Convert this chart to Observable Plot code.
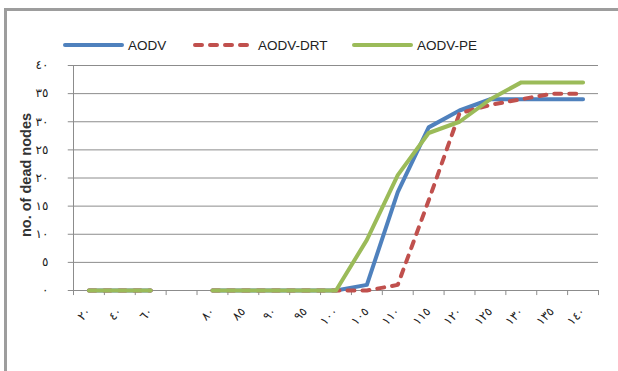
<!DOCTYPE html>
<html>
<head>
<meta charset="utf-8">
<script src="https://cdn.jsdelivr.net/npm/d3@7"></script>
<script src="https://cdn.jsdelivr.net/npm/@observablehq/plot@0.6"></script>
<style>
  html, body { margin: 0; padding: 0; background: #fff; }
  #wrap { position: relative; width: 618px; height: 371px; overflow: hidden; background: #fff; }
  #frame { position: absolute; left: 4px; top: 8px; width: 700px; height: 500px;
           border-left: 3px solid #9d9d9d; border-top: 3px solid #9d9d9d; box-sizing: border-box; }
  #chart { position: absolute; left: 0; top: 0; }
  .item { position: absolute; top: 36px; height: 18px; display: flex; align-items: center;
          font-family: "Liberation Sans", Arial, sans-serif; font-size: 13.5px; color: #222; }
  .item svg { margin-right: 4px; }
</style>
</head>
<body>
<div id="wrap">
  <div id="frame"></div>
  <div id="chart"></div>
</div>
<script>
// Network size categories (Arabic-Indic digits); the empty slot is a gap on the axis
const categories = ["٢٠", "٤٠", "٦٠", "", "٨٠", "٨٥", "٩٠", "٩٥", "١٠٠", "١٠٥", "١١٠", "١١٥", "١٢٠", "١٢٥", "١٣٠", "١٣٥", "١٤٠"];

// Number of dead nodes per protocol
const aodv    = [0, 0, 0, null, 0, 0, 0, 0, 0, 1, 17.5, 29, 32, 34, 34, 34, 34];
const aodvDrt = [0, 0, 0, null, 0, 0, 0, 0, 0, 0, 1, 16, 31.5, 33, 34, 35, 35];
const aodvPe  = [0, 0, 0, null, 0, 0, 0, 0, 0, 9, 20.5, 28, 30, 34, 37, 37, 37];

const seriesNames = ["AODV", "AODV-DRT", "AODV-PE"];
const yTicks = [0, 5, 10, 15, 20, 25, 30, 35, 40];

const toArabic = n => String(n).replace(/[0-9]/g, d => "٠١٢٣٤٥٦٧٨٩"[d]);

const series = [
  {name: seriesNames[0], values: aodv,    color: "#4F81BD", dash: null},
  {name: seriesNames[1], values: aodvDrt, color: "#C0504D", dash: "7,8"},
  {name: seriesNames[2], values: aodvPe,  color: "#9BBB59", dash: null}
];

const rows = series.flatMap(s => s.values.map((v, i) => ({series: s.name, x: i + 0.5, y: v})));
const grid = "#8c8c8c";

const chart = Plot.plot({
  width: 618,
  height: 371,
  marginLeft: 73,
  marginRight: 20,
  marginTop: 65,
  marginBottom: 81,
  style: {background: "transparent", fontFamily: "DejaVu Sans, sans-serif", fontSize: "12px", color: "#222"},
  x: {domain: [0, categories.length], axis: null},
  y: {domain: [0, 40], ticks: yTicks, tickFormat: toArabic, tickSize: 0, tickPadding: 25, label: null},
  marks: [
    // horizontal gridlines with short outward ticks on the left
    Plot.ruleY(yTicks, {x1: -0.17, x2: categories.length, stroke: grid, strokeWidth: 1}),
    // vertical value axis line
    Plot.ruleX([0], {y1: 0, y2: 40, stroke: grid, strokeWidth: 1}),
    // category boundary ticks below the axis
    Plot.ruleX(d3.range(categories.length + 1), {y1: 0, y2: -0.9, stroke: grid, strokeWidth: 1}),
    // category labels
    Plot.text(categories, {
      x: (d, i) => i + 0.5, y: () => 0, text: d => d,
      rotate: -45, textAnchor: "end", dx: 0, dy: 19,
      fontFamily: "DejaVu Sans, sans-serif", fontSize: 12, fill: "#222"
    }),
    // protocol lines, last series drawn on top
    ...series.map(s => Plot.line(rows.filter(r => r.series === s.name), {
      x: "x", y: "y", stroke: s.color, strokeWidth: 4,
      strokeDasharray: s.dash, strokeLinejoin: "round", strokeLinecap: "round"
    })),
    // value axis title
    Plot.text(["no. of dead nodes"], {
      frameAnchor: "left", textAnchor: "middle", text: d => d, rotate: -90, dx: -47, dy: -3,
      fontFamily: "Liberation Sans, Arial, sans-serif", fontSize: 14.5, fontWeight: "bold", fill: "#333"
    })
  ]
});
document.getElementById("chart").appendChild(chart);

// legend row
const legendX = [63, 193, 352];
const wrap = document.getElementById("wrap");
series.forEach((s, k) => {
  const item = document.createElement("div");
  item.className = "item";
  item.style.left = legendX[k] + "px";
  item.innerHTML =
    `<svg width="61" height="8"><line x1="2" y1="4" x2="59" y2="4" stroke="${s.color}" stroke-width="4"` +
    ` stroke-linecap="round"${s.dash ? ` stroke-dasharray="${s.dash}"` : ""}/></svg><span>${s.name}</span>`;
  wrap.appendChild(item);
});
</script>
</body>
</html>
